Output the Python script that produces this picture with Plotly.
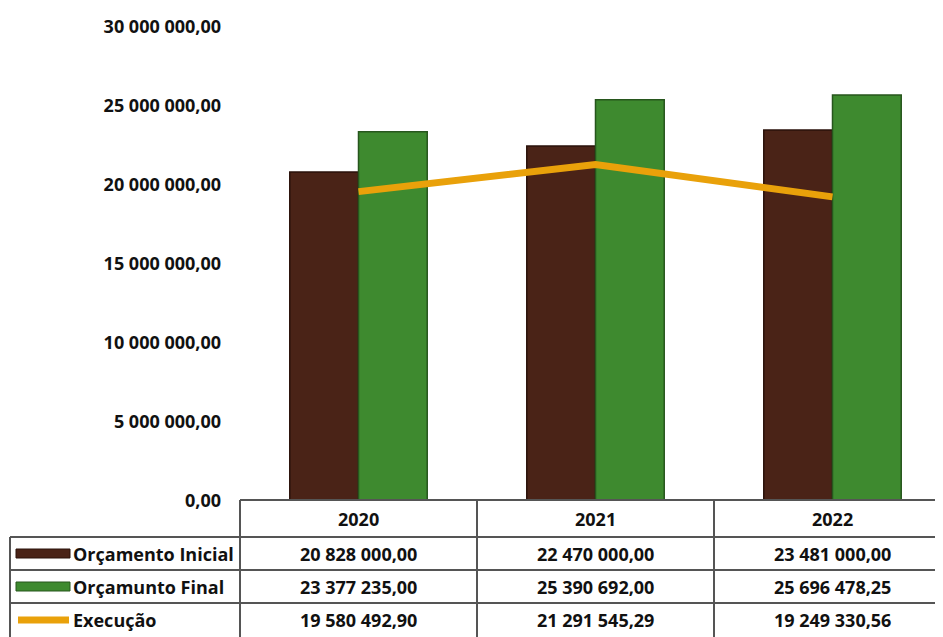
import plotly.graph_objects as go

years = ["2020", "2021", "2022"]
orc_inicial = [20828000.00, 22470000.00, 23481000.00]
orc_final = [23377235.00, 25390692.00, 25696478.25]
execucao = [19580492.90, 21291545.29, 19249330.56]
series_names = ["Orçamento Inicial", "Orçamunto Final", "Execução"]
tick_vals = [0, 5e6, 10e6, 15e6, 20e6, 25e6, 30e6]
tick_text = ["0,00", "5 000 000,00", "10 000 000,00", "15 000 000,00",
             "20 000 000,00", "25 000 000,00", "30 000 000,00"]

BROWN = "#4a2317"
GREEN = "#3e8a2f"
ORANGE = "#e9a10a"
FONT = "Open Sans"


def fmt(v):
    s = f"{v:,.2f}"
    return s.replace(",", " ").replace(".", ",")


xpos = list(range(len(years)))

fig = go.Figure()
fig.add_trace(go.Bar(x=xpos, y=orc_inicial, name=series_names[0],
                     marker=dict(color=BROWN, line=dict(color="#2a120b", width=1.5))))
fig.add_trace(go.Bar(x=xpos, y=orc_final, name=series_names[1],
                     marker=dict(color=GREEN, line=dict(color="#27561d", width=1.5))))
fig.add_trace(go.Scatter(x=xpos, y=execucao, name=series_names[2], mode="lines",
                         line=dict(color=ORANGE, width=7)))

# page pixel geometry: plot area x 240..951, y 27..501 (page has 8px body offset)
PLOT_L, PLOT_R, PLOT_T, PLOT_B = 240, 951, 27, 501
def px(pxl):
    return (pxl - PLOT_L) / (PLOT_R - PLOT_L)
def py(pyl):
    return (PLOT_B - pyl) / (PLOT_B - PLOT_T)

shapes = []
border = dict(color="#555555", width=2)
rows_y = [500, 537, 570, 603, 645]
col_x = [240, 477, 714, 951]
shapes.append(dict(type="line", xref="paper", yref="paper", x0=px(240), x1=px(951),
                   y0=py(rows_y[0]), y1=py(rows_y[0]), line=border))
for yy in rows_y[1:4]:
    shapes.append(dict(type="line", xref="paper", yref="paper", x0=px(10), x1=px(951),
                       y0=py(yy), y1=py(yy), line=border))
for xx in col_x:
    shapes.append(dict(type="line", xref="paper", yref="paper", x0=px(xx), x1=px(xx),
                       y0=py(rows_y[0]), y1=py(rows_y[-1]), line=border))
shapes.append(dict(type="line", xref="paper", yref="paper", x0=px(10), x1=px(10),
                   y0=py(rows_y[1]), y1=py(rows_y[-1]), line=border))
# legend keys
shapes.append(dict(type="rect", xref="paper", yref="paper", x0=px(16), x1=px(70),
                   y0=py(558), y1=py(549), fillcolor=BROWN,
                   line=dict(color="#2a120b", width=1)))
shapes.append(dict(type="rect", xref="paper", yref="paper", x0=px(16), x1=px(70),
                   y0=py(591), y1=py(582), fillcolor=GREEN,
                   line=dict(color="#27561d", width=1)))
shapes.append(dict(type="line", xref="paper", yref="paper", x0=px(18), x1=px(69),
                   y0=py(620), y1=py(620),
                   line=dict(color=ORANGE, width=7)))

annotations = []
tfont = dict(family=FONT, size=18, color="#111111", weight="bold")
for i, y in enumerate(years):
    annotations.append(dict(x=i, y=py(519), xref="x", yref="paper", text=y,
                            showarrow=False, font=tfont, xanchor="center", yanchor="middle"))
row_centers = [554, 587, 620]
for r, (name, vals) in enumerate(zip(series_names, [orc_inicial, orc_final, execucao])):
    annotations.append(dict(x=px(71), y=py(row_centers[r]), xref="paper", yref="paper",
                            text=name, showarrow=False, font=tfont,
                            xanchor="left", yanchor="middle"))
    for i, v in enumerate(vals):
        annotations.append(dict(x=i, y=py(row_centers[r]), xref="x", yref="paper",
                                text=fmt(v), showarrow=False, font=tfont,
                                xanchor="center", yanchor="middle"))

fig.update_layout(
    width=943, height=637,
    margin=dict(l=PLOT_L - 8, r=0, t=PLOT_T - 8, b=637 - (PLOT_B - 8)),
    paper_bgcolor="white", plot_bgcolor="white",
    barmode="group", bargap=0.42, bargroupgap=0,
    showlegend=False,
    shapes=shapes, annotations=annotations,
    xaxis=dict(range=[-0.5, 2.5], showticklabels=False, showgrid=False,
               zeroline=False, showline=False, ticks=""),
    yaxis=dict(range=[0, 30e6], tickvals=tick_vals, ticktext=tick_text, showgrid=False,
               zeroline=False, showline=False, ticklabelstandoff=18,
               tickfont=dict(family=FONT, size=18, color="#111111", weight="bold")),
)

fig.write_html("out.html")
